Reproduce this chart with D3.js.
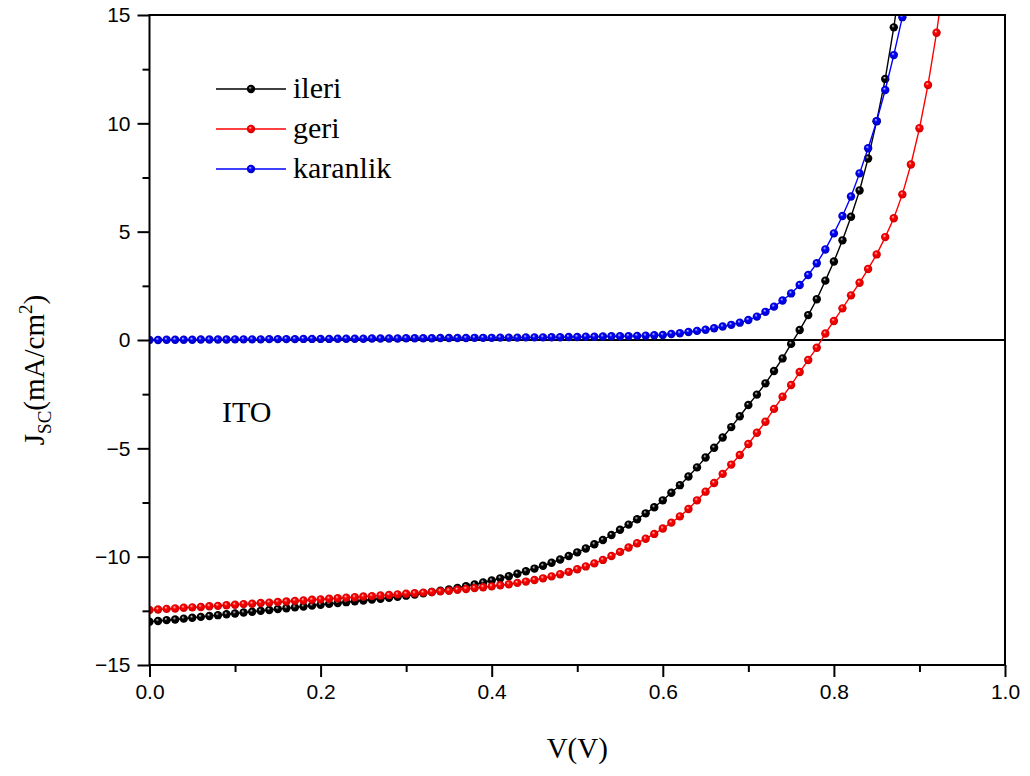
<!DOCTYPE html>
<html>
<head>
<meta charset="utf-8">
<script src="https://cdn.jsdelivr.net/npm/d3@7"></script>
<style>
  html, body { margin: 0; padding: 0; background: #fff; }
  svg { display: block; }
  .tick text { font-family: "Liberation Sans", Arial, sans-serif; }
</style>
</head>
<body>
<svg id="chart" width="1030" height="776"></svg>
<script>
// Bias voltage (V), sampled every 10 mV
const voltage = [
  0.00,0.01,0.02,0.03,0.04,0.05,0.06,0.07,0.08,0.09,
  0.10,0.11,0.12,0.13,0.14,0.15,0.16,0.17,0.18,0.19,
  0.20,0.21,0.22,0.23,0.24,0.25,0.26,0.27,0.28,0.29,
  0.30,0.31,0.32,0.33,0.34,0.35,0.36,0.37,0.38,0.39,
  0.40,0.41,0.42,0.43,0.44,0.45,0.46,0.47,0.48,0.49,
  0.50,0.51,0.52,0.53,0.54,0.55,0.56,0.57,0.58,0.59,
  0.60,0.61,0.62,0.63,0.64,0.65,0.66,0.67,0.68,0.69,
  0.70,0.71,0.72,0.73,0.74,0.75,0.76,0.77,0.78,0.79,
  0.80,0.81,0.82,0.83,0.84,0.85,0.86,0.87,0.88,0.89,
  0.90,0.91,0.92,0.93
];

// Current density (mA/cm²), forward scan
const ileri = [
  -13.00,-12.97,-12.93,-12.90,-12.86,-12.82,-12.78,-12.74,-12.70,-12.66,
  -12.62,-12.58,-12.54,-12.50,-12.46,-12.42,-12.38,-12.34,-12.30,-12.26,
  -12.22,-12.18,-12.14,-12.10,-12.06,-12.02,-11.98,-11.94,-11.90,-11.85,
  -11.80,-11.75,-11.69,-11.63,-11.57,-11.51,-11.44,-11.36,-11.28,-11.19,
  -11.10,-11.00,-10.90,-10.79,-10.67,-10.55,-10.42,-10.28,-10.13,-9.97,
  -9.80,-9.62,-9.43,-9.23,-9.00,-8.76,-8.52,-8.27,-8.00,-7.72,
  -7.40,-7.05,-6.70,-6.30,-5.88,-5.42,-4.97,-4.50,-4.02,-3.52,
  -3.00,-2.52,-2.00,-1.43,-0.85,-0.18,0.46,1.15,1.88,2.74,
  3.62,4.60,5.69,6.90,8.38,10.10,12.05,14.43,17.10
];

// Current density (mA/cm²), reverse scan
const geri = [
  -12.46,-12.44,-12.41,-12.39,-12.36,-12.34,-12.32,-12.29,-12.27,-12.24,
  -12.22,-12.19,-12.17,-12.14,-12.12,-12.09,-12.07,-12.04,-12.02,-11.99,
  -11.97,-11.94,-11.92,-11.89,-11.87,-11.84,-11.82,-11.79,-11.77,-11.74,
  -11.71,-11.69,-11.66,-11.63,-11.60,-11.57,-11.53,-11.49,-11.45,-11.41,
  -11.37,-11.32,-11.27,-11.21,-11.15,-11.08,-11.00,-10.91,-10.81,-10.70,
  -10.58,-10.45,-10.31,-10.15,-9.97,-9.78,-9.58,-9.38,-9.17,-8.95,
  -8.70,-8.43,-8.14,-7.80,-7.40,-7.00,-6.60,-6.18,-5.75,-5.31,
  -4.80,-4.28,-3.77,-3.18,-2.62,-2.08,-1.48,-0.92,-0.36,0.30,
  0.88,1.46,2.06,2.64,3.28,3.95,4.75,5.62,6.72,8.10,
  9.77,11.77,14.18,17.00
];

// Current density (mA/cm²), dark measurement
const karanlik = [
  0.00,0.00,0.01,0.01,0.01,0.01,0.02,0.02,0.02,0.02,
  0.03,0.03,0.03,0.03,0.04,0.04,0.04,0.04,0.05,0.05,
  0.05,0.05,0.06,0.06,0.06,0.06,0.07,0.07,0.07,0.07,
  0.08,0.08,0.08,0.08,0.09,0.09,0.09,0.09,0.10,0.10,
  0.10,0.11,0.11,0.11,0.12,0.12,0.12,0.13,0.13,0.14,
  0.14,0.15,0.15,0.16,0.17,0.17,0.18,0.19,0.20,0.22,
  0.23,0.28,0.31,0.37,0.42,0.47,0.54,0.62,0.70,0.80,
  0.92,1.08,1.30,1.54,1.82,2.15,2.54,3.00,3.54,4.18,
  4.92,5.72,6.62,7.69,8.85,10.10,11.54,13.15,14.90,16.90
];

const seriesNames = ["ileri", "geri", "karanlik"];
const seriesValues = [ileri, geri, karanlik];
const seriesColors = ["#000000", "#ff0000", "#0000ff"];
const seriesHighlights = ["#d8d8d8", "#ffd0d0", "#d0d0ff"];
const seriesShadows = ["#000000", "#c80000", "#0000b4"];

const xTicks = [0.0, 0.2, 0.4, 0.6, 0.8, 1.0];
const xMinorTicks = [0.1, 0.3, 0.5, 0.7, 0.9];
const yTicks = [-15, -10, -5, 0, 5, 10, 15];
const yMinorTicks = [-12.5, -7.5, -2.5, 2.5, 7.5, 12.5];

const margin = { left: 149.5, right: 25, top: 15, bottom: 111 };
const W = 1030, H = 776;

const svg = d3.select("#chart");

const x = d3.scaleLinear().domain([0, 1]).range([margin.left, W - margin.right]);
const y = d3.scaleLinear().domain([-15, 15]).range([H - margin.bottom, margin.top]);

// sphere-like shading for the markers
const defs = svg.append("defs");
seriesNames.forEach((name, i) => {
  const g = defs.append("radialGradient")
    .attr("id", "ball-" + i)
    .attr("cx", "50%").attr("cy", "50%").attr("r", "55%")
    .attr("fx", "38%").attr("fy", "32%");
  g.append("stop").attr("offset", "0%").attr("stop-color", seriesHighlights[i]);
  g.append("stop").attr("offset", "35%").attr("stop-color", seriesColors[i]);
  g.append("stop").attr("offset", "100%").attr("stop-color", seriesShadows[i]);
});
defs.append("clipPath").attr("id", "plot-clip")
  .append("rect")
  .attr("x", x(0)).attr("y", y(15))
  .attr("width", x(1) - x(0)).attr("height", y(-15) - y(15));

// zero-current reference line
svg.append("line")
  .attr("x1", x(0)).attr("x2", x(1))
  .attr("y1", y(0)).attr("y2", y(0))
  .attr("stroke", "#000").attr("stroke-width", 2);

// data
const plot = svg.append("g").attr("clip-path", "url(#plot-clip)");
const line = d3.line().x((d) => x(d[0])).y((d) => y(d[1]));

seriesValues.forEach((vals, i) => {
  const pts = vals.map((v, k) => [voltage[k], v]);
  const g = plot.append("g");
  g.append("path")
    .datum(pts)
    .attr("d", line)
    .attr("fill", "none")
    .attr("stroke", seriesColors[i])
    .attr("stroke-width", 1.4);
  g.selectAll("circle")
    .data(pts)
    .join("circle")
    .attr("cx", (d) => x(d[0]))
    .attr("cy", (d) => y(d[1]))
    .attr("r", 4.2)
    .attr("fill", "url(#ball-" + i + ")");
});

// frame
svg.append("rect")
  .attr("x", x(0)).attr("y", y(15))
  .attr("width", x(1) - x(0)).attr("height", y(-15) - y(15))
  .attr("fill", "none").attr("stroke", "#000").attr("stroke-width", 2);

// axes
function styleAxis(g) {
  g.select(".domain").remove();
  g.selectAll(".tick line").attr("stroke", "#000").attr("stroke-width", 2);
  g.selectAll(".tick text").attr("fill", "#000").attr("font-size", 21);
}

const xAxis = svg.append("g")
  .attr("transform", `translate(0,${y(-15)})`)
  .call(d3.axisBottom(x).tickValues(xTicks).tickFormat(d3.format(".1f")).tickSize(12).tickPadding(7));
styleAxis(xAxis);
const xMinor = svg.append("g")
  .attr("transform", `translate(0,${y(-15)})`)
  .call(d3.axisBottom(x).tickValues(xMinorTicks).tickFormat("").tickSize(7));
styleAxis(xMinor);

const yAxis = svg.append("g")
  .attr("transform", `translate(${x(0)},0)`)
  .call(d3.axisLeft(y).tickValues(yTicks).tickFormat(d3.format("d")).tickSize(12).tickPadding(7));
styleAxis(yAxis);
const yMinor = svg.append("g")
  .attr("transform", `translate(${x(0)},0)`)
  .call(d3.axisLeft(y).tickValues(yMinorTicks).tickFormat("").tickSize(7));
styleAxis(yMinor);

const serif = "'Liberation Serif', 'Times New Roman', serif";

// axis titles
svg.append("text")
  .attr("x", (x(0) + x(1)) / 2).attr("y", 758)
  .attr("text-anchor", "middle")
  .attr("font-family", serif).attr("font-size", 29)
  .text("V(V)");

const yTitle = svg.append("text")
  .attr("transform", `translate(44,${(y(15) + y(-15)) / 2 + 30}) rotate(-90)`)
  .attr("text-anchor", "middle")
  .attr("font-family", serif).attr("font-size", 29);
yTitle.append("tspan").text("J");
yTitle.append("tspan").attr("font-size", 19).attr("dy", 7).text("SC");
yTitle.append("tspan").attr("dy", -7).text("(mA/cm");
yTitle.append("tspan").attr("font-size", 19).attr("dy", -12).text("2");
yTitle.append("tspan").attr("dy", 12).text(")");

// sample label
svg.append("text")
  .attr("x", 222).attr("y", 422)
  .attr("font-family", serif).attr("font-size", 30)
  .text("ITO");

// legend
const legend = svg.append("g");
seriesNames.forEach((name, i) => {
  const ly = 89 + i * 40;
  legend.append("line")
    .attr("x1", 216).attr("x2", 286).attr("y1", ly).attr("y2", ly)
    .attr("stroke", seriesColors[i]).attr("stroke-width", 1.4);
  legend.append("circle")
    .attr("cx", 251).attr("cy", ly).attr("r", 4.2)
    .attr("fill", "url(#ball-" + i + ")");
  legend.append("text")
    .attr("x", 293).attr("y", ly + 9)
    .attr("font-family", serif).attr("font-size", 30)
    .text(name);
});
</script>
</body>
</html>
